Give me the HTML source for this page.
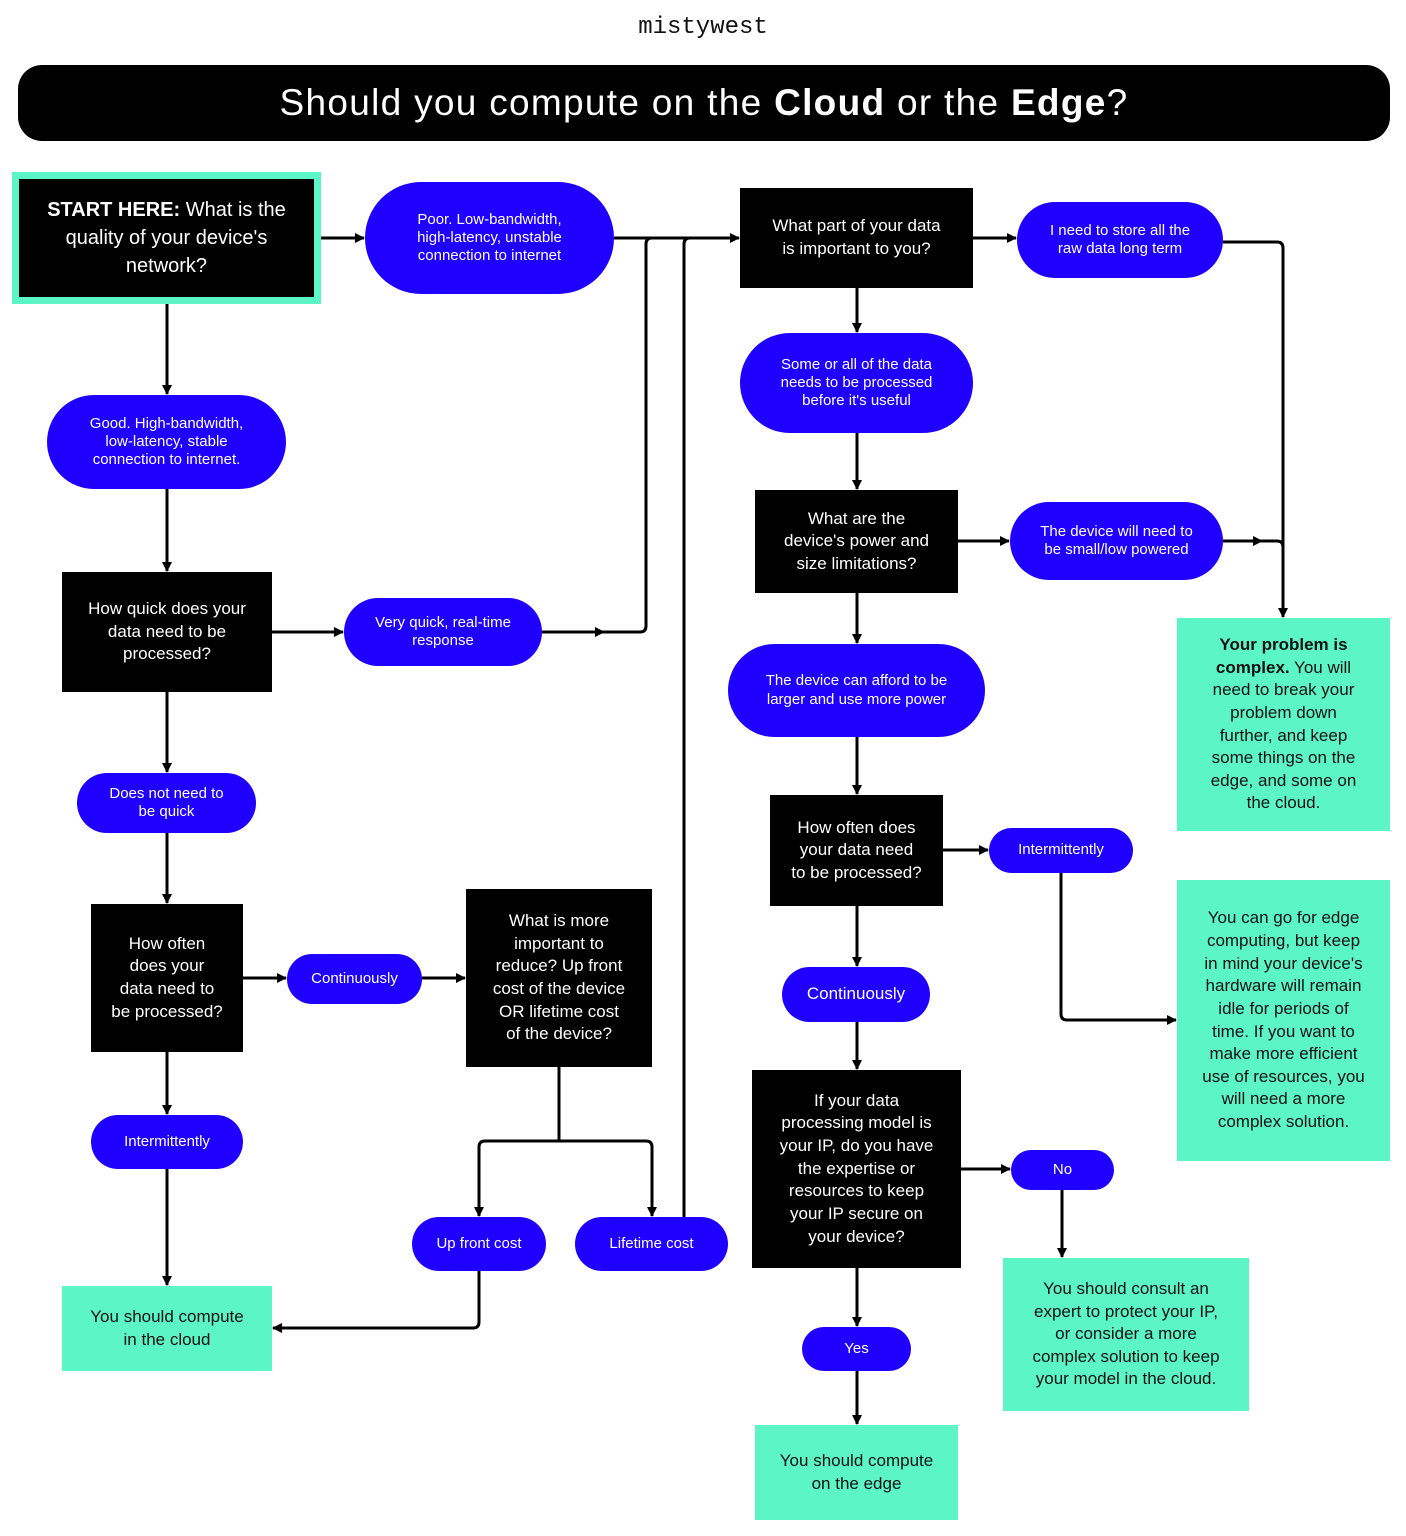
<!DOCTYPE html>
<html><head><meta charset="utf-8"><style>
body{margin:0;width:1406px;height:1536px;background:#fff;position:relative;font-family:"Liberation Sans",sans-serif;overflow:hidden}
.n{position:absolute;display:flex;align-items:center;justify-content:center;text-align:center;box-sizing:border-box;color:#fff;line-height:1.3}
.b{background:#000;font-size:17px;line-height:1.33;padding:6px}
.p{background:#1f00ff;font-size:15px;line-height:1.22;border-radius:60px;padding:0 14px}
.m{background:#5cf6c6;color:#111;font-size:17px;line-height:1.33;padding:8px}
svg{position:absolute;left:0;top:0}
</style></head><body>
<div class="n" style="left:0;top:10px;width:1406px;height:36px;color:#111;font-family:'Liberation Mono',monospace;font-size:24px">mistywest</div>
<div class="n" style="left:18px;top:65px;width:1372px;height:76px;background:#000;border-radius:24px;font-size:37px;letter-spacing:1.3px">Should you compute on the&nbsp;<b>Cloud</b>&nbsp;or the&nbsp;<b>Edge</b>?</div>
<svg width="1406" height="1536">
<defs><marker id="a" markerWidth="10" markerHeight="10" refX="9" refY="5" orient="auto" markerUnits="userSpaceOnUse"><path d="M0,0 L10,5 L0,10 z" fill="#000"/></marker></defs>
<g stroke="#000" stroke-width="3" fill="none" marker-end="url(#a)">
<path d="M321 238 H364"/>
<path d="M614 238 H739"/>
<path d="M542 632 H604"/>
<path d="M604 632 H640 Q646 632 646 626 V244 Q646 238 652 238" marker-end="none"/>
<path d="M684 1217 V244 Q684 238 690 238" marker-end="none"/>
<path d="M167 304 V394"/>
<path d="M167 489 V571"/>
<path d="M272 632 H343"/>
<path d="M167 692 V772"/>
<path d="M167 833 V903"/>
<path d="M243 978 H286"/>
<path d="M422 978 H465"/>
<path d="M167 1052 V1114"/>
<path d="M167 1169 V1285"/>
<path d="M559 1067 V1141" marker-end="none"/>
<path d="M559 1141 H485 Q479 1141 479 1147 V1216"/>
<path d="M559 1141 H646 Q652 1141 652 1147 V1216"/>
<path d="M479 1271 V1322 Q479 1328 473 1328 H273"/>
<path d="M973 238 H1016"/>
<path d="M1223 242 H1277 Q1283 242 1283 248 V617"/>
<path d="M857 288 V332"/>
<path d="M857 433 V489"/>
<path d="M958 541 H1009"/>
<path d="M1223 541 H1262"/>
<path d="M1262 541 H1277 Q1283 541 1283 547" marker-end="none"/>
<path d="M857 593 V643"/>
<path d="M857 737 V794"/>
<path d="M943 850 H988"/>
<path d="M1061 873 V1014 Q1061 1020 1067 1020 H1176"/>
<path d="M857 906 V966"/>
<path d="M857 1022 V1069"/>
<path d="M961 1169 H1010"/>
<path d="M1062 1190 V1257"/>
<path d="M857 1268 V1326"/>
<path d="M857 1371 V1424"/>
</g></svg>
<div class="n b" style="left:12px;top:172px;width:309px;height:132px;border:7px solid #5cf6c6;font-size:20px;line-height:1.4"><span><b>START HERE:</b> What is the<br>quality of your device's<br>network?</span></div>
<div class="n p" style="left:365px;top:182px;width:249px;height:112px">Poor. Low-bandwidth,<br>high-latency, unstable<br>connection to internet</div>
<div class="n b" style="left:740px;top:188px;width:233px;height:100px">What part of your data<br>is important to you?</div>
<div class="n p" style="left:1017px;top:202px;width:206px;height:76px">I need to store all the<br>raw data long term</div>
<div class="n p" style="left:47px;top:395px;width:239px;height:94px">Good. High-bandwidth,<br>low-latency, stable<br>connection to internet.</div>
<div class="n p" style="left:740px;top:333px;width:233px;height:100px">Some or all of the data<br>needs to be processed<br>before it's useful</div>
<div class="n b" style="left:62px;top:572px;width:210px;height:120px">How quick does your<br>data need to be<br>processed?</div>
<div class="n p" style="left:344px;top:598px;width:198px;height:68px">Very quick, real-time<br>response</div>
<div class="n b" style="left:755px;top:490px;width:203px;height:103px">What are the<br>device's power and<br>size limitations?</div>
<div class="n p" style="left:1010px;top:502px;width:213px;height:78px">The device will need to<br>be small/low powered</div>
<div class="n m" style="left:1177px;top:618px;width:213px;height:213px"><span><b>Your problem is<br>complex.</b> You will<br>need to break your<br>problem down<br>further, and keep<br>some things on the<br>edge, and some on<br>the cloud.</span></div>
<div class="n p" style="left:728px;top:644px;width:257px;height:93px">The device can afford to be<br>larger and use more power</div>
<div class="n p" style="left:77px;top:773px;width:179px;height:60px">Does not need to<br>be quick</div>
<div class="n b" style="left:770px;top:795px;width:173px;height:111px">How often does<br>your data need<br>to be processed?</div>
<div class="n p" style="left:989px;top:828px;width:144px;height:45px">Intermittently</div>
<div class="n m" style="left:1177px;top:880px;width:213px;height:281px">You can go for edge<br>computing, but keep<br>in mind your device's<br>hardware will remain<br>idle for periods of<br>time. If you want to<br>make more efficient<br>use of resources, you<br>will need a more<br>complex solution.</div>
<div class="n b" style="left:91px;top:904px;width:152px;height:148px">How often<br>does your<br>data need to<br>be processed?</div>
<div class="n p" style="left:287px;top:954px;width:135px;height:50px">Continuously</div>
<div class="n b" style="left:466px;top:889px;width:186px;height:178px">What is more<br>important to<br>reduce? Up front<br>cost of the device<br>OR lifetime cost<br>of the device?</div>
<div class="n p" style="left:782px;top:967px;width:148px;height:55px;font-size:17px">Continuously</div>
<div class="n b" style="left:752px;top:1070px;width:209px;height:198px">If your data<br>processing model is<br>your IP, do you have<br>the expertise or<br>resources to keep<br>your IP secure on<br>your device?</div>
<div class="n p" style="left:1011px;top:1150px;width:103px;height:40px">No</div>
<div class="n p" style="left:91px;top:1115px;width:152px;height:54px">Intermittently</div>
<div class="n p" style="left:412px;top:1217px;width:134px;height:54px">Up front cost</div>
<div class="n p" style="left:575px;top:1217px;width:153px;height:54px">Lifetime cost</div>
<div class="n m" style="left:1003px;top:1258px;width:246px;height:153px">You should consult an<br>expert to protect your IP,<br>or consider a more<br>complex solution to keep<br>your model in the cloud.</div>
<div class="n m" style="left:62px;top:1286px;width:210px;height:85px">You should compute<br>in the cloud</div>
<div class="n p" style="left:802px;top:1327px;width:109px;height:44px">Yes</div>
<div class="n m" style="left:755px;top:1425px;width:203px;height:95px">You should compute<br>on the edge</div>
</body></html>
